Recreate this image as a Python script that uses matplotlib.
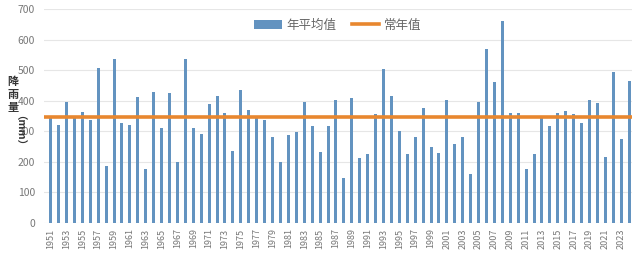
import matplotlib.pyplot as plt
import numpy as np

plt.rcParams['font.family'] = ['Noto Sans CJK SC', 'DejaVu Sans']

years = list(range(1951, 2025))
rain = [345, 320, 395, 345, 362, 337, 507, 187, 536, 328,
        319, 411, 178, 430, 310, 424, 199, 535, 310, 292,
        389, 415, 359, 236, 434, 368, 342, 337, 282, 199,
        288, 298, 395, 317, 231, 317, 403, 147, 408, 213,
        225, 357, 504, 414, 301, 224, 280, 377, 247, 228,
        403, 258, 282, 159, 395, 570, 460, 660, 361, 359,
        176, 224, 348, 317, 361, 365, 358, 328, 403, 392,
        216, 495, 274, 463]
normal = 347
tick_years = years[::2]

fig = plt.figure(figsize=(6.4, 2.58), dpi=100)
ax = fig.add_axes([0.068, 0.136, 0.92, 0.829])

x = np.arange(len(years))
bars = ax.bar(x, rain, width=0.38, color='#6393c0', label='年平均值', zorder=2)
line = ax.axhline(normal, color='#e8872f', linewidth=2.6, label='常年值', zorder=3)

ax.set_xlim(-0.9, len(years) - 0.6)
ax.set_ylim(0, 700)
ax.set_yticks(range(0, 701, 100))
ax.set_xticks(x[::2])
ax.set_xticklabels([str(y) for y in tick_years], rotation=90)
ax.tick_params(axis='x', labelsize=6.5, colors='#777777', length=0, pad=4)
ax.tick_params(axis='y', labelsize=7.5, colors='#777777', length=0, pad=6)
ax.grid(True, axis='y', color='#e6e6e6', linewidth=0.8, zorder=0)
for s in ax.spines.values():
    s.set_visible(False)

fig.text(0.02, 0.635, '降\n雨\n量', fontsize=8, fontweight='bold',
         color='#333333', ha='center', va='center', linespacing=1.0)
fig.text(0.02, 0.475, '（mm）', fontsize=7.5, fontweight='bold',
         color='#333333', ha='center', va='center', rotation=270)

ax.legend([bars, line], ['年平均值', '常年值'], loc='center',
          bbox_to_anchor=(0.5, 0.925), ncol=2, frameon=False,
          fontsize=9, labelcolor='#666666', handlelength=2.2,
          columnspacing=1.2, handletextpad=0.4)

fig.savefig('out.png', dpi=100)
